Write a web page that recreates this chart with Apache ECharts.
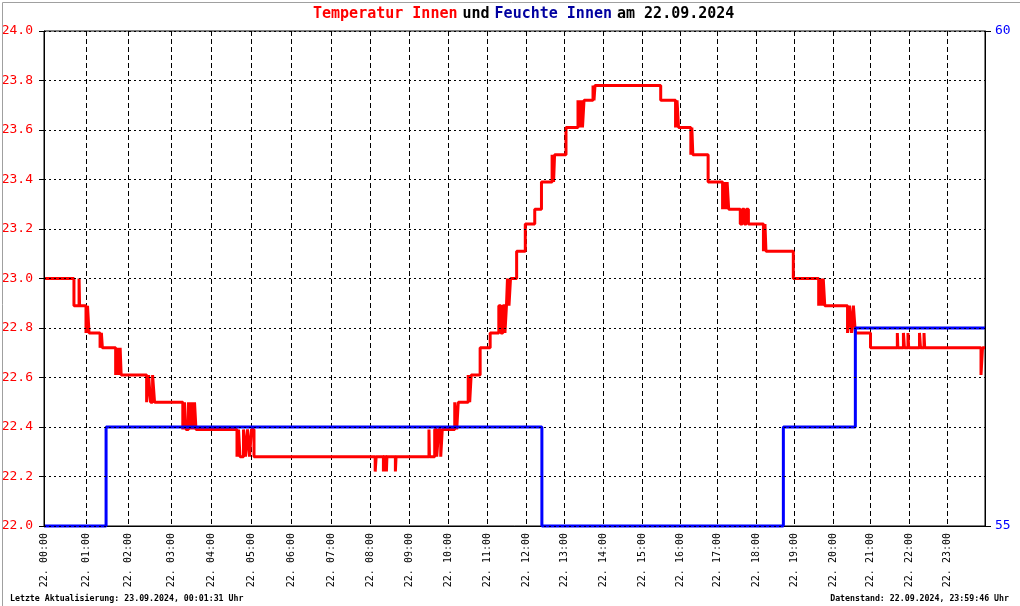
<!DOCTYPE html>
<html>
<head>
<meta charset="utf-8">
<script src="https://cdn.jsdelivr.net/npm/echarts@6/dist/echarts.min.js"></script>
<style>
html,body{margin:0;padding:0;background:#fff;}
#c{width:1020px;height:606px;}
</style>
</head>
<body>
<div id="c"></div>
<script>
// ---- data (time in hours of 22.09.2024) ----
const hourLabels = ['22. 00:00','22. 01:00','22. 02:00','22. 03:00','22. 04:00','22. 05:00','22. 06:00','22. 07:00',
  '22. 08:00','22. 09:00','22. 10:00','22. 11:00','22. 12:00','22. 13:00','22. 14:00','22. 15:00',
  '22. 16:00','22. 17:00','22. 18:00','22. 19:00','22. 20:00','22. 21:00','22. 22:00','22. 23:00'];

// The source chart plots by sample number (irregular sampling): sample index at which each hour starts (24 = end of day)
const hourSampleIndex = [0, 42, 84, 127, 167, 207, 247, 287, 326, 365, 404, 443, 482,
  520, 559, 598, 636, 673, 712, 750, 789, 826, 865, 903, 941];

// Temperatur Innen (°C), value holds from each time until the next one
const tempTimes = [0, 0.713, 0.835, 0.847, 1.000, 1.036, 1.072, 1.335, 1.366, 1.390,
  1.706, 1.742, 1.778, 1.813, 1.837, 2.433, 2.479, 2.525, 2.572, 2.618,
  3.295, 3.338, 3.375, 3.438, 3.475, 3.513, 3.550, 3.588, 3.625,
  4.650, 4.688, 4.725, 4.813, 4.863, 4.913, 4.963, 5.013, 5.075,
  8.133, 8.158, 8.344, 8.357, 8.421, 8.434, 8.651, 8.668,
  9.512, 9.525, 9.659, 9.711, 9.762, 9.814, 9.853,
  10.173, 10.224, 10.263, 10.518, 10.556, 10.594, 10.824, 11.081,
  11.303, 11.355, 11.407, 11.460, 11.499, 11.525, 11.564, 11.603,
  11.760, 11.982, 12.230, 12.407, 12.687, 12.726, 12.752, 13.051,
  13.359, 13.397, 13.436, 13.474, 13.513, 13.744, 13.769, 13.795,
  15.492, 15.883, 15.922, 15.961, 16.293, 16.320, 16.347, 16.760,
  17.143, 17.182, 17.221, 17.260, 17.299, 17.597, 17.649, 17.701, 17.753, 17.805,
  18.196, 18.236, 18.262, 18.982, 19.633, 19.672, 19.711, 19.750, 19.789,
  20.393, 20.446, 20.499, 20.551, 20.604, 21.013,
  21.701, 21.714, 21.857, 21.883, 21.974, 21.992, 22.276, 22.303, 22.395, 22.413,
  23.895, 23.934, 24];
const tempValues = [23.00, 22.89, 23.00, 22.89, 22.78, 22.89, 22.78, 22.72, 22.78, 22.72,
  22.61, 22.72, 22.61, 22.72, 22.61, 22.50, 22.61, 22.50, 22.61, 22.50,
  22.39, 22.50, 22.39, 22.50, 22.39, 22.50, 22.39, 22.50, 22.39,
  22.28, 22.39, 22.28, 22.39, 22.28, 22.39, 22.28, 22.39, 22.28,
  22.22, 22.28, 22.22, 22.28, 22.22, 22.28, 22.22, 22.28,
  22.39, 22.28, 22.39, 22.28, 22.39, 22.28, 22.39,
  22.50, 22.39, 22.50, 22.61, 22.50, 22.61, 22.72, 22.78,
  22.89, 22.78, 22.89, 22.78, 22.89, 23.00, 22.89, 23.00,
  23.11, 23.22, 23.28, 23.39, 23.50, 23.39, 23.50, 23.61,
  23.72, 23.61, 23.72, 23.61, 23.72, 23.78, 23.72, 23.78,
  23.72, 23.61, 23.72, 23.61, 23.50, 23.61, 23.50, 23.39,
  23.28, 23.39, 23.28, 23.39, 23.28, 23.22, 23.28, 23.22, 23.28, 23.22,
  23.11, 23.22, 23.11, 23.00, 22.89, 23.00, 22.89, 23.00, 22.89,
  22.78, 22.89, 22.78, 22.89, 22.78, 22.72,
  22.78, 22.72, 22.78, 22.72, 22.78, 22.72, 22.78, 22.72, 22.78, 22.72,
  22.61, 22.72, 22.72];

// Feuchte Innen (%)
const humTimes = [0, 1.478, 12.418, 18.720, 20.604, 24];
const humValues = [55, 56, 55, 56, 57, 57];

const titleMain = 'Temperatur Innen';
const titleMid = 'und';
const titleHum = 'Feuchte Innen';
const titleDate = 'am 22.09.2024';
const footLeft = 'Letzte Aktualisierung: 23.09.2024, 00:01:31 Uhr';
const footRight = 'Datenstand: 22.09.2024, 23:59:46 Uhr';

// ---- chart ----
const MONO = "'DejaVu Sans Mono', 'Liberation Mono', monospace";

// hour of day -> sample index (piecewise linear between the hourly sample indices)
function toSample(h) {
  const i = Math.min(Math.floor(h), 23);
  const a = hourSampleIndex[i], b = hourSampleIndex[i + 1];
  return a + (h - i) * (b - a);
}
const tempData = tempTimes.map((t, i) => [toSample(t), tempValues[i]]);
const humData = humTimes.map((t, i) => [toSample(t), humValues[i]]);
const tickSamples = hourSampleIndex.slice(0, 24);
const sampleMax = hourSampleIndex[24];

const chart = echarts.init(document.getElementById('c'), null, {renderer: 'canvas'});
chart.setOption({
  animation: false,
  backgroundColor: '#ffffff',
  title: [
    {
      text: '{r|' + titleMain + '} {k|' + titleMid + '} {b|' + titleHum + '} {k|' + titleDate + '}',
      left: 313, top: 5, padding: 0,
      textStyle: {
        rich: {
          r: {color: '#ff0000', fontFamily: MONO, fontSize: 15, fontWeight: 'bold', lineHeight: 16},
          k: {color: '#000000', fontFamily: MONO, fontSize: 15, fontWeight: 'bold', lineHeight: 16},
          b: {color: '#0000a0', fontFamily: MONO, fontSize: 15, fontWeight: 'bold', lineHeight: 16}
        }
      }
    },
    {
      text: footLeft, left: 10, top: 594, padding: 0,
      textStyle: {color: '#000', fontFamily: MONO, fontSize: 8.25, fontWeight: 'bold', lineHeight: 10}
    },
    {
      text: footRight, right: 11, top: 594, padding: 0,
      textStyle: {color: '#000', fontFamily: MONO, fontSize: 8.25, fontWeight: 'bold', lineHeight: 10}
    }
  ],
  graphic: [{
    type: 'rect', left: 0, top: 0, silent: true, z: 100,
    shape: {x: 0.5, y: 0.5, width: 1019, height: 605},
    style: {fill: null, stroke: '#a0a0a0', lineWidth: 1}
  }],
  grid: {
    left: 44, right: 35, top: 31, bottom: 80,
    show: true, borderColor: '#000', borderWidth: 1, backgroundColor: '#fff',
    containLabel: false, outerBoundsMode: 'none'
  },
  xAxis: {
    type: 'value', min: 0, max: sampleMax,
    axisLine: {show: true, lineStyle: {color: '#000', width: 1}},
    axisTick: {show: false, customValues: tickSamples},
    axisLabel: {
      show: true, rotate: 90, margin: 7, color: '#000',
      fontFamily: MONO, fontSize: 10, hideOverlap: false,
      customValues: tickSamples,
      formatter: v => {
        const k = tickSamples.indexOf(v);
        return k >= 0 ? hourLabels[k] : '';
      }
    },
    splitLine: {show: true, lineStyle: {color: '#000', width: 1, type: [5, 3]}}
  },
  yAxis: [
    {
      type: 'value', min: 22, max: 24, interval: 0.2, position: 'left', z: 5,
      axisLine: {show: true, lineStyle: {color: '#000', width: 1}},
      axisTick: {show: true, inside: false, length: 5, lineStyle: {color: '#000'}},
      axisLabel: {
        color: '#ff0000', fontFamily: MONO, fontSize: 13, margin: 11,
        formatter: v => v.toFixed(1)
      },
      splitLine: {show: true, lineStyle: {color: '#000', width: 1, type: [2, 3]}}
    },
    {
      type: 'value', min: 55, max: 60, interval: 5, position: 'right',
      axisLine: {show: true, lineStyle: {color: '#000', width: 1}},
      axisTick: {show: true, inside: false, length: 6, lineStyle: {color: '#000'}},
      axisLabel: {color: '#0000ff', fontFamily: MONO, fontSize: 13, margin: 10},
      splitLine: {show: false}
    }
  ],
  series: [
    {
      name: 'Temperatur Innen', type: 'line', yAxisIndex: 0, step: 'end',
      data: tempData, showSymbol: false, clip: false, z: 2,
      lineStyle: {color: '#ff0000', width: 3}, itemStyle: {color: '#ff0000'}
    },
    {
      name: 'Feuchte Innen', type: 'line', yAxisIndex: 1, step: 'end',
      data: humData, showSymbol: false, clip: false, z: 3,
      lineStyle: {color: '#0000ff', width: 3}, itemStyle: {color: '#0000ff'}
    }
  ]
});
</script>
</body>
</html>
